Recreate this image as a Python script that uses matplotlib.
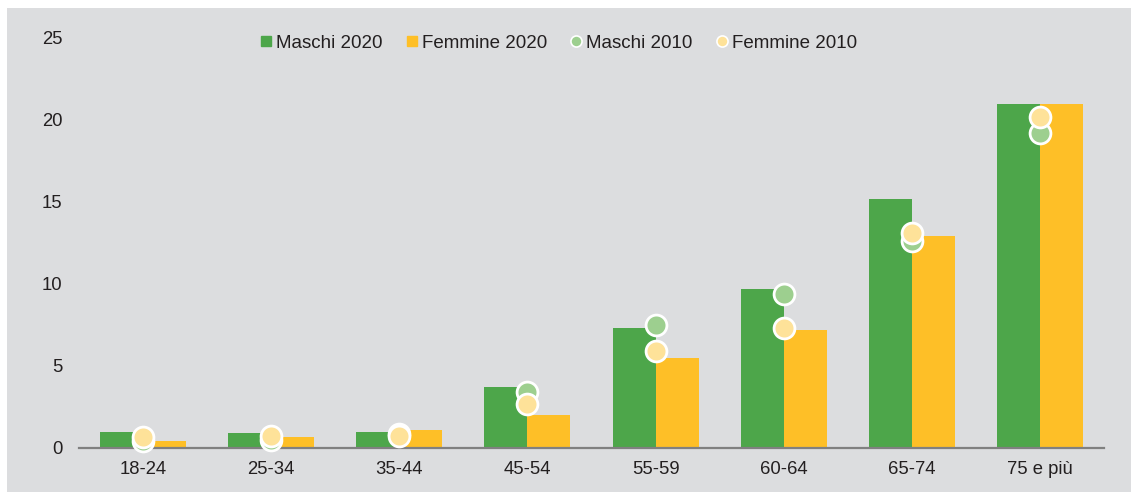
import matplotlib
matplotlib.use('Agg')
from matplotlib import pyplot as plt
import numpy as np

# Data
categories = ['18-24', '25-34', '35-44', '45-54', '55-59', '60-64', '65-74', '75 e più']
maschi_2020 = [1.0, 0.9, 1.0, 3.7, 7.3, 9.7, 15.2, 21.0]
femmine_2020 = [0.4, 0.7, 1.1, 2.0, 5.5, 7.2, 12.9, 21.0]
maschi_2010 = [0.45, 0.5, 0.85, 3.4, 7.5, 9.4, 12.6, 19.2]
femmine_2010 = [0.7, 0.75, 0.75, 2.7, 5.9, 7.3, 13.1, 20.2]

# Colours
bg = '#DCDDDF'
green = '#4DA64A'
yellow = '#FEBF27'
light_green = '#9DCF8F'
light_yellow = '#FEE299'
text_col = '#231F20'

plt.rcParams['font.family'] = ['Liberation Sans', 'DejaVu Sans']
plt.rcParams['font.size'] = 13

fig = plt.figure(figsize=(11.31, 4.92), dpi=100)
fig.patch.set_facecolor('white')
# grey panel, leaving a thin white strip top and left
fig.patches.append(plt.Rectangle((7 / 1131, 0), 1 - 7 / 1131, 1 - 8 / 492,
                                 transform=fig.transFigure, facecolor=bg,
                                 edgecolor='none', zorder=-1))

ax = fig.add_axes([79 / 1131, 1 - 448 / 492, (1104 - 79) / 1131, (448 - 38) / 492])
ax.set_facecolor('none')

x = np.arange(len(categories))
w = 0.336

ax.bar(x - w / 2, maschi_2020, w, color=green, label='Maschi 2020', zorder=2)
ax.bar(x + w / 2, femmine_2020, w, color=yellow, label='Femmine 2020', zorder=2)

ax.plot(x, maschi_2010, 'o', ms=15, mfc=light_green, mec='white', mew=2,
        label='Maschi 2010', zorder=3, clip_on=False)
ax.plot(x, femmine_2010, 'o', ms=15, mfc=light_yellow, mec='white', mew=2,
        label='Femmine 2010', zorder=4, clip_on=False)

ax.set_xlim(-0.5, len(categories) - 0.5)
ax.set_ylim(0, 25)
ax.set_yticks([0, 5, 10, 15, 20, 25])
ax.set_xticks(x)
ax.set_xticklabels(categories)

for s in ['top', 'right', 'left']:
    ax.spines[s].set_visible(False)
ax.spines['bottom'].set_color('#808080')
ax.spines['bottom'].set_linewidth(1.6)
ax.spines['bottom'].set_zorder(2.5)
ax.tick_params(axis='both', length=0, colors=text_col, labelsize=13.3)
ax.tick_params(axis='y', pad=12)
ax.tick_params(axis='x', pad=9)

# legend with small square / circle handles
handles = [
    plt.Line2D([], [], marker='s', ls='none', ms=7, mfc=green, mec=green),
    plt.Line2D([], [], marker='s', ls='none', ms=7, mfc=yellow, mec=yellow),
    plt.Line2D([], [], marker='o', ls='none', ms=8, mfc=light_green, mec='white', mew=1.2),
    plt.Line2D([], [], marker='o', ls='none', ms=8, mfc=light_yellow, mec='white', mew=1.2),
]
labels = ['Maschi 2020', 'Femmine 2020', 'Maschi 2010', 'Femmine 2010']
leg = fig.legend(handles, labels, loc='center', bbox_to_anchor=(0.494, 1 - 43 / 492),
                 ncol=4, frameon=False, handlelength=0.6, handletextpad=0.25,
                 columnspacing=1.25, fontsize=13.5)
for t in leg.get_texts():
    t.set_color(text_col)

fig.savefig('out.png', dpi=100, facecolor=fig.get_facecolor())
